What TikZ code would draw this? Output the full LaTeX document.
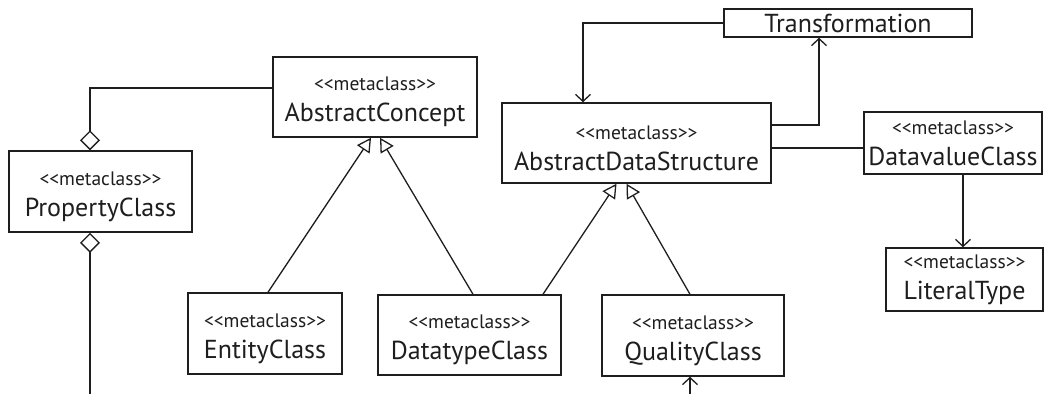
\documentclass[tikz,border=0pt]{standalone}
\usepackage{fontspec}
\setmainfont{PT Sans}
\usetikzlibrary{arrows.meta}
\definecolor{ink}{HTML}{1E1E1E}
\newcommand{\stereo}{{\fontsize{19.5}{22}\selectfont <\kern0pt<metaclass>\kern0pt>}\\[3pt]}
\newcommand{\stereoT}{{\fontsize{19.5}{22}\selectfont \rule{0pt}{24pt}<\kern0pt<metaclass>\kern0pt>}\\[3pt]}
\tikzset{
  cls/.style={draw=ink, line width=1.5pt, fill=white, align=center, inner sep=0pt,
    font=\fontsize{26}{28}\selectfont, text=ink},
  conn/.style={draw=ink, line width=1.3pt},
  gen/.style={conn, -{Triangle[open, length=14pt, width=15pt, line width=1.3pt]}},
  nav/.style={conn, -{Straight Barb[length=7pt, width=15pt, line width=1.3pt]}},
  agg/.style={conn, {Diamond[open, length=20pt, width=20pt, line width=1.3pt]}-},
}
\begin{document}
\begin{tikzpicture}[x=1pt, y=-1pt]
\useasboundingbox (0,0) rectangle (1045,394);
\node[cls, minimum width=204pt, minimum height=80pt] (ac) at (375,97) {\stereoT AbstractConcept};
\node[cls, minimum width=183pt, minimum height=81pt] (pc) at (100.5,191.5) {\stereoT PropertyClass};
\node[cls, minimum width=154pt, minimum height=81pt] (ec) at (265,333.5) {\stereoT EntityClass};
\node[cls, minimum width=183pt, minimum height=80pt] (dc) at (469.5,335) {\stereoT DatatypeClass};
\node[cls, minimum width=182pt, minimum height=81pt] (qc) at (693,335.5) {\stereoT QualityClass};
\node[cls, minimum width=269pt, minimum height=80pt] (ads) at (636.5,143) {\stereoT AbstractDataStructure};
\node[cls, minimum width=248pt, minimum height=28pt] (tr) at (848,23) {Transformation};
\node[cls, minimum width=178pt, minimum height=62pt] (dv) at (953,143) {\stereo DatavalueClass};
\node[cls, minimum width=157pt, minimum height=63pt] (lt) at (964.5,279.5) {\stereo LiteralType};
\coordinate (pcend) at (90,394);
\coordinate (qcstart) at (690,394);

\draw[agg] ([xshift=-10.5pt]pc.north) |- ([yshift=9pt]ac.west);
\draw[agg] ([xshift=-10.5pt]pc.south) -- (pcend);
\draw[gen] ([xshift=3pt]ec.north) -- ([xshift=-4pt]ac.south);
\draw[gen] ([xshift=3.5pt]dc.north) -- ([xshift=5pt]ac.south);
\draw[gen] ([xshift=73.5pt]dc.north) -- ([xshift=-20pt]ads.south);
\draw[gen] ([xshift=-3pt]qc.north) -- ([xshift=-10pt]ads.south);
\draw[nav] (qcstart) -- ([xshift=-3pt]qc.south);
\draw[nav] (tr.west) -| ([xshift=-53.5pt]ads.north);
\draw[nav] ([yshift=18pt]ads.east) -| ([xshift=-29pt]tr.south);
\draw[conn] ([yshift=-5pt]ads.east) -- ([yshift=-5pt]dv.west);
\draw[nav] ([xshift=10pt]dv.south) -- ([xshift=-1.5pt]lt.north);
\end{tikzpicture}
\end{document}
